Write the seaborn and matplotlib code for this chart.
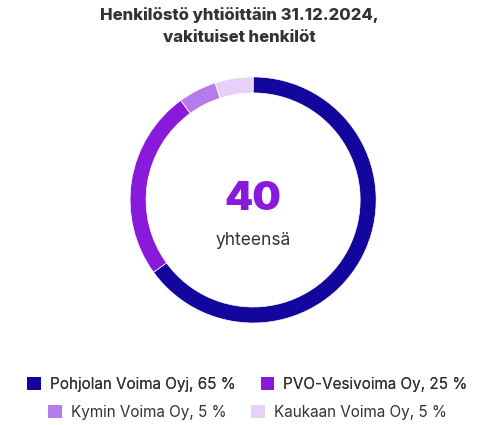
import matplotlib
matplotlib.use('Agg')
from matplotlib import pyplot as plt
from matplotlib.patches import Patch
import seaborn as sns

# Data
companies = ['Pohjolan Voima Oyj', 'PVO-Vesivoima Oy', 'Kymin Voima Oy', 'Kaukaan Voima Oy']
shares = [65, 25, 5, 5]
total = 40
colors = ['#13069c', '#8a1adb', '#b57be8', '#e6d1f8']

sns.set_theme(style='white')
plt.rcParams['font.family'] = ['Inter', 'DejaVu Sans']

fig = plt.figure(figsize=(4.78, 4.25), dpi=100)
ax = fig.add_axes([0.272, 0.240, 0.515, 0.579])
ax.pie(shares, colors=colors, startangle=90, counterclock=False,
       wedgeprops=dict(width=0.13, edgecolor='white', linewidth=0.5))
ax.set_xlim(-1.0, 1.0)
ax.set_ylim(-1.0, 1.0)
ax.set_aspect('equal')

ax.text(0, 0.0, str(total), ha='center', va='center', fontsize=29,
        fontweight='black', color='#8a1adb')
ax.text(0, -0.33, 'yhteensä', ha='center', va='center', fontsize=12.5, color='#333333')

fig.text(0.5, 0.938, 'Henkilöstö yhtiöittäin 31.12.2024,\nvakituiset henkilöt',
         ha='center', va='center', fontsize=12, fontweight='heavy', color='#333333',
         linespacing=1.6)

labels = [f'{c}, {s} %' for c, s in zip(companies, shares)]
handles = [Patch(facecolor=col, edgecolor='none') for col in colors]

leg1 = fig.legend(handles[:2], labels[:2], ncol=2, loc='center', bbox_to_anchor=(0.518, 0.096),
                  frameon=False, fontsize=11, handlelength=0.9, handleheight=0.9,
                  handletextpad=0.6, columnspacing=1.6, labelcolor='#333333')
fig.add_artist(leg1)
fig.legend(handles[2:], labels[2:], ncol=2, loc='center', bbox_to_anchor=(0.518, 0.030),
           frameon=False, fontsize=11, handlelength=0.9, handleheight=0.9,
           handletextpad=0.6, columnspacing=1.6, labelcolor='#333333')

fig.savefig('out.png', dpi=100)
